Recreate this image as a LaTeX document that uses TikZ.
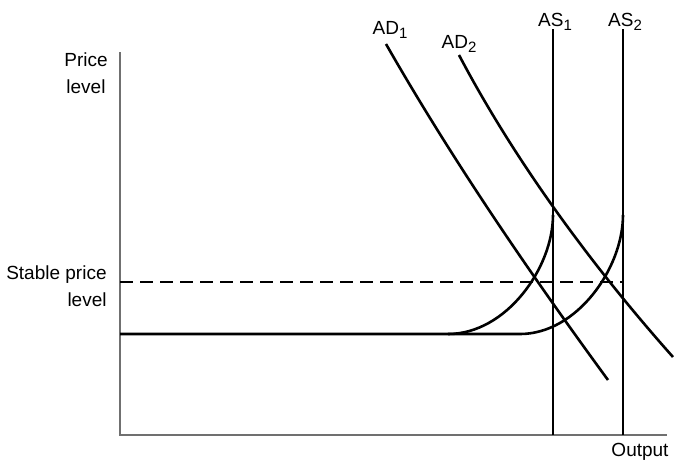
\documentclass[tikz,border=0pt]{standalone}
\usepackage{fontspec}
\setmainfont{Liberation Sans}
\usepackage{xcolor}
\definecolor{axiscolor}{HTML}{707070}
\usepackage{tikz}
\usetikzlibrary{positioning}
\newcommand{\lowsub}[1]{\raisebox{-0.45ex}{\fontsize{7.5}{7.5}\selectfont #1}}
\tikzset{
    axis/.style={
        draw=axiscolor,
        line width=0.7pt,
    },
    curve/.style={
        draw=black,
        line width=1.3pt,
    },
    stable/.style={
        curve,
        dash pattern=on 6.5pt off 3.5pt,
    },
    label/.style={
        font=\fontsize{9.5}{13.5}\selectfont,
        inner sep=0pt,
    },
}
\begin{document}
\begin{tikzpicture}[x=0.5pt, y=-0.5pt]
    \useasboundingbox (0,0) rectangle (680,468);

    % Axes
    \coordinate (origin) at (120,435);
    \coordinate (ytop) at (120,52);
    \coordinate (xend) at (667,435);
    \draw[axis] (ytop) -- (origin) -- (xend);

    % Axis labels
    \node[label, align=center] (pricelab) at (86,73) {Price\\level};
    \node[label, align=right, anchor=east] (stablelab) at (107,286) {Stable price\\level};
    \node[label] (outputlab) at (640,452) {Output};

    % Stable price level
    \coordinate (stableleft) at (120,282);
    \coordinate (stableright) at (623,282);
    \draw[stable] (stableleft) -- (stableright);

    % Aggregate supply
    \coordinate (as1top) at (553,29);
    \coordinate (as2top) at (623,29);
    \draw[curve] (as1top) -- (553,435);
    \draw[curve] (as2top) -- (623,435);
    \node[label] (as1lab) at (555,22) {AS\lowsub{1}};
    \node[label] (as2lab) at (625,22) {AS\lowsub{2}};

    % Supply bends
    \coordinate (flatleft) at (120,334);
    \draw[curve] (flatleft) -- (520,334)
        .. controls (577,334) and (623,268) .. (623,215);
    \draw[curve] (448,334)
        .. controls (506,334) and (553,268) .. (553,215);

    % Aggregate demand
    \coordinate (ad1top) at (386,44);
    \coordinate (ad2top) at (459,55);
    \draw[curve] (ad1top) .. controls (450,156) and (526,268) .. (608,380);
    \draw[curve] (ad2top) .. controls (510,152) and (584,257) .. (673,357);
    \node[label] (ad1lab) at (390,30) {AD\lowsub{1}};
    \node[label] (ad2lab) at (459,44) {AD\lowsub{2}};

\end{tikzpicture}
\end{document}
